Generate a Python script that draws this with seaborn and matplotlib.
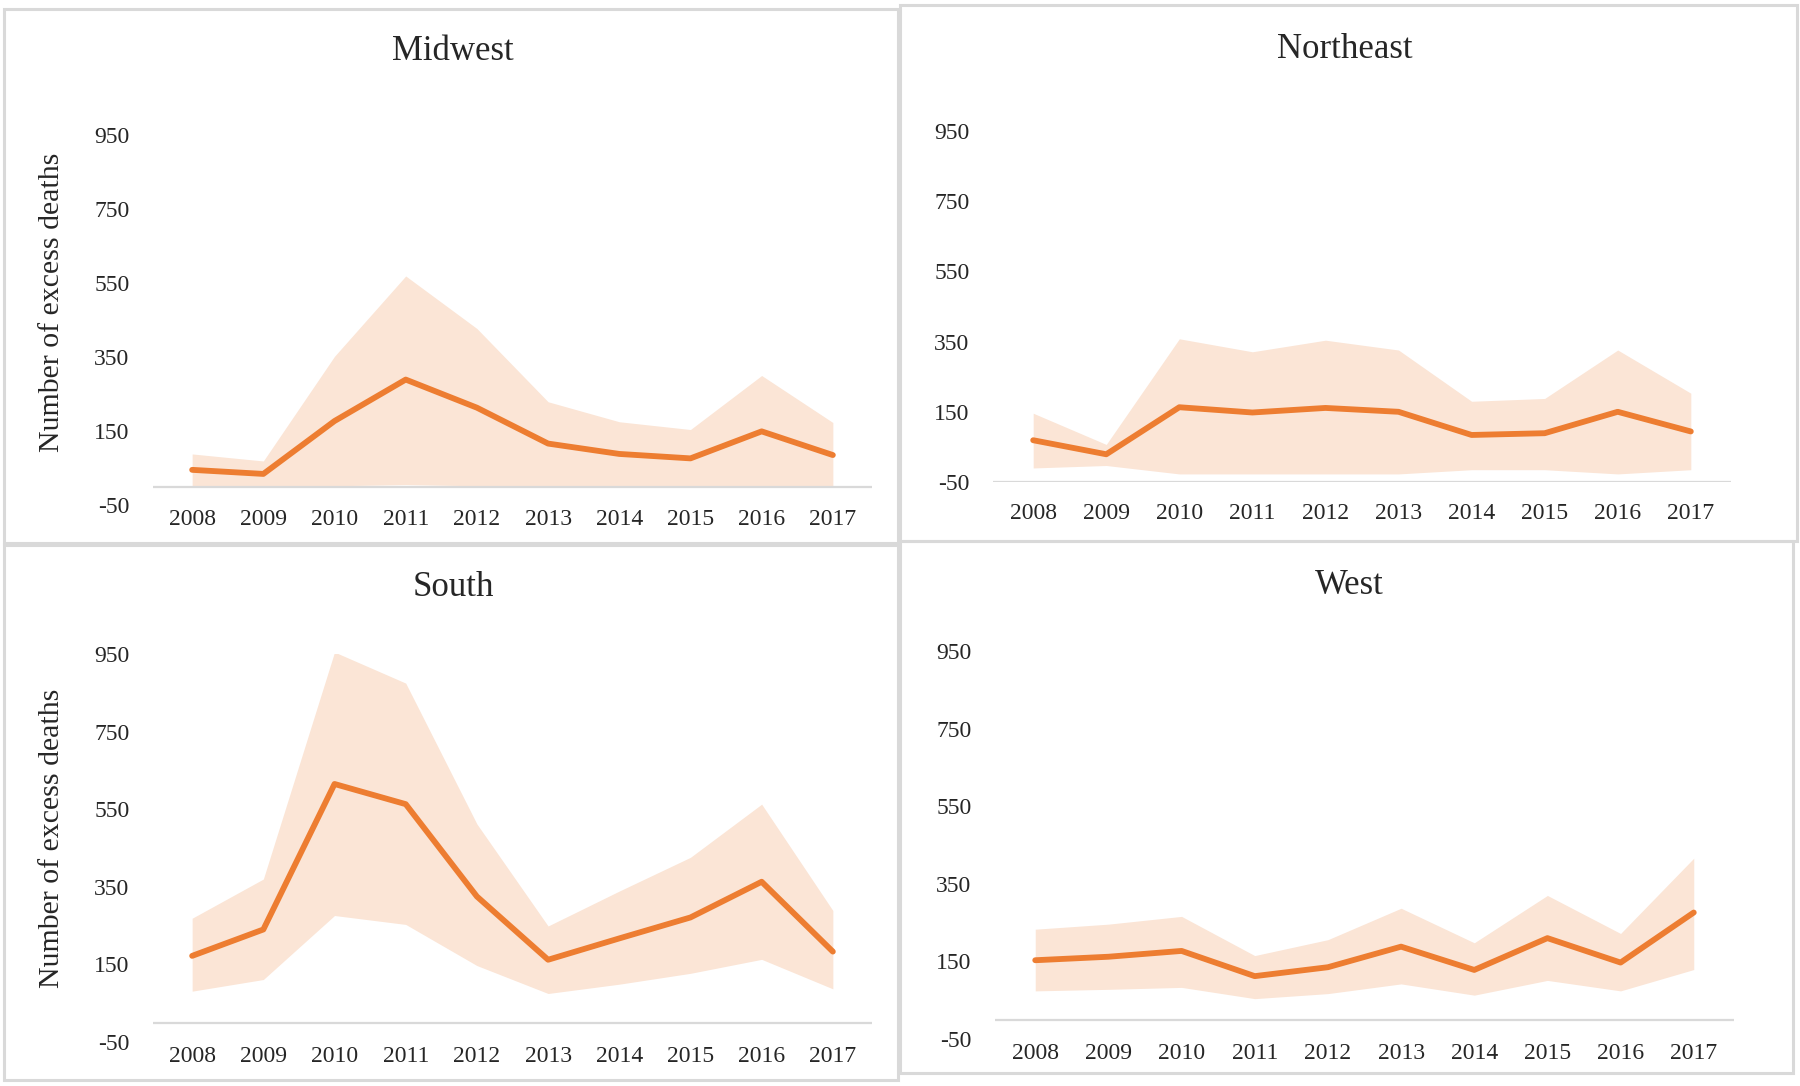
import numpy as np
import pandas as pd
import matplotlib
matplotlib.use('Agg')
import matplotlib.pyplot as plt
import seaborn as sns
from matplotlib.patches import Rectangle

# Data
years = [2008, 2009, 2010, 2011, 2012, 2013, 2014, 2015, 2016, 2017]
regions = ['Midwest', 'Northeast', 'South', 'West']

midwest_est = [45, 34, 177, 289, 213, 116, 88, 76, 149, 85]
midwest_hi = [88, 69, 352, 569, 427, 229, 175, 154, 300, 173]
midwest_lo = [0, 0, 2, 5, 2, 0, 0, 0, 2, 0]

northeast_est = [69, 29, 163, 148, 161, 150, 84, 89, 150, 94]
northeast_hi = [146, 57, 358, 321, 354, 326, 180, 188, 326, 203]
northeast_lo = [-10, -3, -27, -27, -27, -27, -15, -15, -27, -15]

south_est = [172, 240, 615, 563, 325, 162, 217, 271, 363, 183]
south_hi = [269, 370, 955, 875, 512, 249, 339, 426, 563, 289]
south_lo = [81, 111, 276, 253, 147, 75, 99, 127, 163, 87]

west_est = [153, 162, 177, 112, 135, 188, 128, 210, 147, 276]
west_hi = [233, 246, 266, 165, 206, 287, 198, 320, 222, 416]
west_lo = [74, 78, 83, 54, 67, 92, 63, 101, 74, 129]

y_ticks = [-50, 150, 350, 550, 750, 950]
y_label = 'Number of excess deaths'

series = {
    'Midwest': (midwest_est, midwest_lo, midwest_hi),
    'Northeast': (northeast_est, northeast_lo, northeast_hi),
    'South': (south_est, south_lo, south_hi),
    'West': (west_est, west_lo, west_hi),
}

sns.set_style('white')
plt.rcParams['font.family'] = ['Liberation Serif', 'DejaVu Serif']

line_color = '#ED7D31'
band_color = '#FBE5D6'
axis_grey = '#D9D9D9'

fig = plt.figure(figsize=(18, 10.86), dpi=100)
W, H = 1800, 1086

# panel frames (pixel boxes: x0, y0, x1, y1)
frames = {
    'Midwest': (4, 9, 898, 543),
    'Northeast': (900, 5, 1797, 541),
    'South': (4, 545, 898, 1080),
    'West': (900, 541, 1793, 1073),
}
# axes boxes: left, right, y of 950, y of -50
axes_px = {
    'Midwest': (153, 872, 135, 505),
    'Northeast': (993, 1731, 131, 482),
    'South': (153, 872, 654, 1042),
    'West': (995, 1734, 651, 1039),
}
title_px = {
    'Midwest': (453, 52),
    'Northeast': (1345, 50),
    'South': (453, 588),
    'West': (1349, 586),
}
ylabel_pos = {'Midwest': 0.549, 'South': 0.526}
axis_at = {'Midwest': 0, 'Northeast': -50, 'South': 0, 'West': 0}

for name in regions:
    x0, y0, x1, y1 = frames[name]
    fig.patches.append(Rectangle((x0 / W, 1 - y1 / H), (x1 - x0) / W, (y1 - y0) / H,
                                 transform=fig.transFigure, fill=False,
                                 edgecolor=axis_grey, linewidth=2.2, zorder=0))

    l, r, t, b = axes_px[name]
    ax = fig.add_axes([l / W, 1 - b / H, (r - l) / W, (b - t) / H])

    est, lo, hi = series[name]
    df = pd.DataFrame({'year': years, 'est': est, 'lo': lo, 'hi': hi})

    ax.fill_between(df['year'], df['lo'], df['hi'], color=band_color, linewidth=0, zorder=1)
    sns.lineplot(data=df, x='year', y='est', ax=ax, color=line_color, linewidth=4.2, zorder=3)

    ax.axhline(axis_at[name], color=axis_grey, linewidth=1.6, zorder=2)

    ax.set_xlim(2007.45, 2017.55)
    ax.set_ylim(-50, 950)
    ax.set_xticks(years)
    ax.set_xticklabels([str(y) for y in years], fontsize=17)
    ax.set_yticks(y_ticks)
    ax.set_yticklabels([str(v) for v in y_ticks], fontsize=17)
    ax.tick_params(axis='both', length=0)
    # labels sit ~30px under the horizontal axis line
    ax.tick_params(axis='x', pad=3 if axis_at[name] == 0 else 15)
    ax.tick_params(axis='y', pad=17)
    for s in ax.spines.values():
        s.set_visible(False)
    ax.set_xlabel('')
    if name in ylabel_pos:
        ax.set_ylabel(y_label, fontsize=21.5)
        ax.yaxis.set_label_coords(-0.122, ylabel_pos[name])
    else:
        ax.set_ylabel('')
    ax.patch.set_alpha(0)

    tx, ty = title_px[name]
    fig.text(tx / W, 1 - ty / H, name, fontsize=25, ha='center', va='center')

fig.savefig('out.png', dpi=100)
